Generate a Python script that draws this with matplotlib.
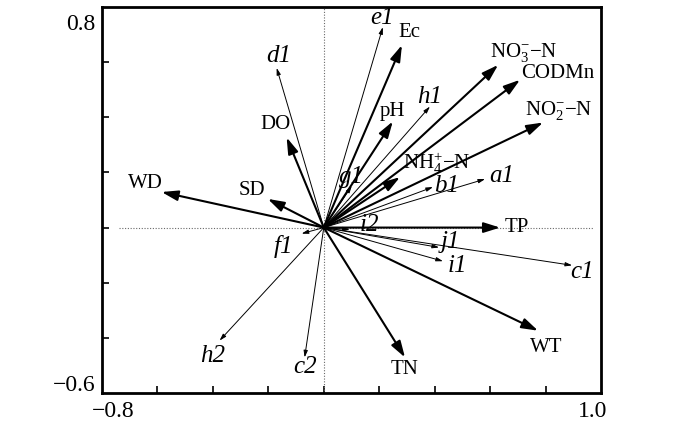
import numpy as np
import matplotlib
matplotlib.use('Agg')
import matplotlib.pyplot as plt
import matplotlib.transforms as mtransforms

plt.rcParams['font.family'] = ['Liberation Serif', 'DejaVu Serif']
plt.rcParams['mathtext.fontset'] = 'custom'
plt.rcParams['mathtext.rm'] = 'Liberation Serif'
plt.rcParams['mathtext.it'] = 'Liberation Serif:italic'

# Environmental factors (thick arrows)
env_names = ['WD', 'SD', 'DO', 'Ec', 'pH', 'NO$_3^{-}$\u2212N', 'CODMn',
             'NO$_2^{-}$\u2212N', 'NH$_4^{+}$\u2212N', 'TP', 'WT', 'TN']
env_x = [-0.585, -0.202, -0.134, 0.282, 0.249, 0.629, 0.708, 0.791, 0.275, 0.636, 0.773, 0.293]
env_y = [0.129, 0.104, 0.327, 0.662, 0.385, 0.590, 0.536, 0.381, 0.183, 0.0, -0.374, -0.471]

# Species (thin arrows)
sp_names = ['d1', 'e1', 'h1', 'g1', 'a1', 'b1', 'i2', 'f1', 'j1', 'i1', 'c1', 'h2', 'c2']
sp_x = [-0.170, 0.213, 0.383, 0.101, 0.582, 0.394, 0.094, -0.080, 0.416, 0.430, 0.896, -0.376, -0.069]
sp_y = [0.579, 0.727, 0.439, 0.151, 0.176, 0.147, -0.007, -0.022, -0.072, -0.122, -0.137, -0.410, -0.471]

# label offsets from arrow tips, in pixels
env_off = [(-16, 10), (-16, 9), (-11, 14), (7, 14), (0, 11), (26, 13), (38, 7),
           (16, 13), (37, 15), (17, 1), (8, -16), (0, -11)]
sp_off = [(2, 13), (-1, 10), (0, 11), (0, 10), (17, 4), (14, 2), (20, 6), (-18, -12),
          (11, 6), (14, -4), (10, -6), (-7, -14), (0, -9)]

fig = plt.figure(figsize=(7, 4.27), dpi=100)
ax = fig.add_axes([102/700, 1 - 394/427, 499/700, 386/427])
ax.set_xlim(-0.8, 1.0)
ax.set_ylim(-0.6, 0.8)

# dotted zero lines
ax.axhline(0, xmin=0.034, xmax=0.984, color='dimgray', lw=0.8, ls=(0, (1, 1.5)))
ax.axvline(0, color='dimgray', lw=0.8, ls=(0, (1, 1.5)))

# species arrows
for name, x, y, off in zip(sp_names, sp_x, sp_y, sp_off):
    ax.annotate('', xy=(x, y), xytext=(0, 0),
                arrowprops=dict(arrowstyle='-|>,head_length=0.5,head_width=0.15',
                                lw=0.7, color='black', mutation_scale=8,
                                shrinkA=0, shrinkB=0))
    ax.annotate(name, xy=(x, y), xytext=off, textcoords='offset pixels',
                ha='center', va='center', fontsize=18, style='italic')

# environmental arrows
for name, x, y, off in zip(env_names, env_x, env_y, env_off):
    ax.annotate('', xy=(x, y), xytext=(0, 0),
                arrowprops=dict(arrowstyle='-|>,head_length=0.7,head_width=0.22',
                                lw=1.5, color='black', mutation_scale=14,
                                shrinkA=0, shrinkB=0))
    ax.annotate(name, xy=(x, y), xytext=off, textcoords='offset pixels',
                ha='center', va='center', fontsize=15)

# ticks: end labels only, inner ticks as minor
ax.set_xticks([-0.8, 1.0])
ax.set_xticklabels(['\u22120.8', '1.0'])
ax.set_yticks([-0.6, 0.8])
ax.set_yticklabels(['\u22120.6', '0.8'])
ax.set_xticks(np.arange(-0.6, 0.81, 0.2), minor=True)
ax.set_yticks(np.arange(-0.4, 0.61, 0.2), minor=True)
ax.tick_params(which='major', length=0, labelsize=17, pad=5)
ax.tick_params(which='minor', direction='in', length=5, width=1.2)
ax.tick_params(top=False, right=False)

# nudge end labels inward like the original
dpi_tr = fig.dpi_scale_trans
xl = ax.get_xticklabels()
xl[0].set_transform(xl[0].get_transform() + mtransforms.ScaledTranslation(11/100, 0, dpi_tr))
xl[1].set_transform(xl[1].get_transform() + mtransforms.ScaledTranslation(-8/100, 0, dpi_tr))
yl = ax.get_yticklabels()
yl[0].set_transform(yl[0].get_transform() + mtransforms.ScaledTranslation(0, 11/100, dpi_tr))
yl[1].set_transform(yl[1].get_transform() + mtransforms.ScaledTranslation(0, -14/100, dpi_tr))

for s in ax.spines.values():
    s.set_linewidth(2)

fig.savefig('out.png', dpi=100)
